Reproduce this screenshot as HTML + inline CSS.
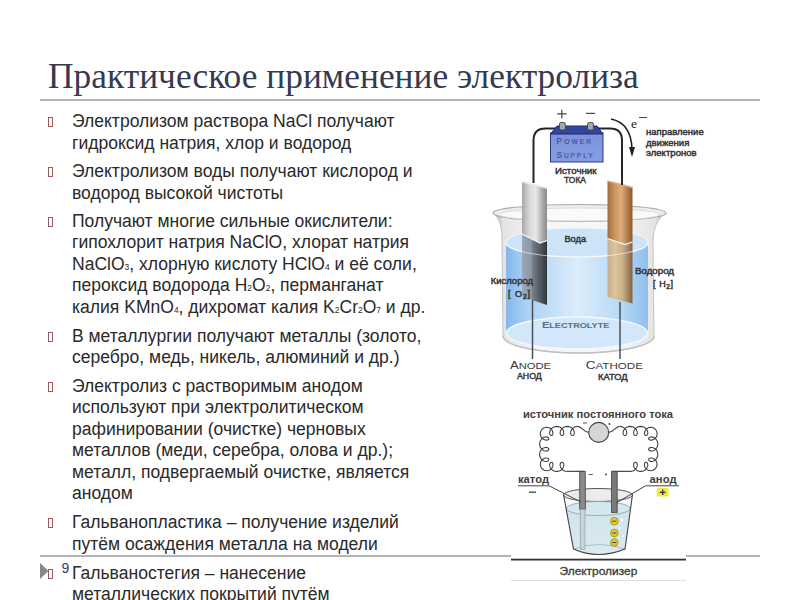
<!DOCTYPE html>
<html><head><meta charset="utf-8">
<style>
html,body{margin:0;padding:0;background:#fff;}
body{width:800px;height:600px;position:relative;overflow:hidden;}
.title{position:absolute;left:48px;top:51px;font-family:"Liberation Serif",serif;font-size:35.4px;color:#363a4f;white-space:nowrap;line-height:50px;}
.hline{position:absolute;left:40px;width:720px;height:2px;background:#b4b4b4;}
.ln{position:absolute;left:72px;font-family:"Liberation Sans",sans-serif;font-size:17.55px;line-height:20px;color:#2a2a2a;white-space:nowrap;}
.bul{position:absolute;left:48px;width:5px;height:10px;border:1px solid #9a5c5c;box-sizing:border-box;}
.sb{font-size:48%;}

</style></head><body>
<div class="title">Практическое применение электролиза</div>
<div class="hline" style="top:99px"></div>
<div class="hline" style="top:555px"></div>
<div class="ln" style="top:111px">Электролизом раствора NaCl получают</div>
<div class="bul" style="top:117px"></div>
<div class="ln" style="top:133px">гидроксид натрия, хлор и водород</div>
<div class="ln" style="top:161px">Электролизом воды получают кислород и</div>
<div class="bul" style="top:167px"></div>
<div class="ln" style="top:183px">водород высокой чистоты</div>
<div class="ln" style="top:211px">Получают многие сильные окислители:</div>
<div class="bul" style="top:217px"></div>
<div class="ln" style="top:232px">гипохлорит натрия NaClO, хлорат натрия</div>
<div class="ln" style="top:254px">NaClO<span class="sb">3</span>, хлорную кислоту HClO<span class="sb">4</span> и её соли,</div>
<div class="ln" style="top:275px">пероксид водорода H<span class="sb">2</span>O<span class="sb">2</span>, перманганат</div>
<div class="ln" style="top:297px">калия KMnO<span class="sb">4</span>, дихромат калия K<span class="sb">2</span>Cr<span class="sb">2</span>O<span class="sb">7</span> и др.</div>
<div class="ln" style="top:326px">В металлургии получают металлы (золото,</div>
<div class="bul" style="top:332px"></div>
<div class="ln" style="top:347px">серебро, медь, никель, алюминий и др.)</div>
<div class="ln" style="top:376px">Электролиз с растворимым анодом</div>
<div class="bul" style="top:382px"></div>
<div class="ln" style="top:397px">используют при электролитическом</div>
<div class="ln" style="top:419px">рафинировании (очистке) черновых</div>
<div class="ln" style="top:440px">металлов (меди, серебра, олова и др.);</div>
<div class="ln" style="top:462px">металл, подвергаемый очистке, является</div>
<div class="ln" style="top:483px">анодом</div>
<div class="ln" style="top:512px">Гальванопластика – получение изделий</div>
<div class="bul" style="top:518px"></div>
<div class="ln" style="top:534px">путём осаждения металла на модели</div>
<div class="ln" style="top:563px">Гальваностегия – нанесение</div>
<div class="bul" style="top:569px"></div>
<div class="ln" style="top:584px">металлических покрытий путём</div>
<svg style="position:absolute;left:0;top:0;font-family:'Liberation Sans',sans-serif" width="800" height="600" viewBox="0 0 800 600">
<polygon points="40,563 48.5,571 40,579" fill="#888"/>
<text x="61.5" y="572.8" font-size="14" fill="#3a3e58">9</text>
<defs>
<linearGradient id="anodeTop" x1="0" x2="1" y1="0" y2="0">
<stop offset="0" stop-color="#a8a8a8"/><stop offset="0.3" stop-color="#d8d8d8"/><stop offset="0.55" stop-color="#e8e8e8"/><stop offset="0.85" stop-color="#a4a4a4"/><stop offset="1" stop-color="#8c8c8c"/>
</linearGradient>
<linearGradient id="anodeBot" x1="0" x2="1" y1="0" y2="0">
<stop offset="0" stop-color="#9aa8b8"/><stop offset="0.38" stop-color="#8a96a4"/><stop offset="0.42" stop-color="#767e88"/><stop offset="0.8" stop-color="#4a5058"/><stop offset="1" stop-color="#30343a"/>
</linearGradient>
<linearGradient id="cathTop" x1="0" x2="1" y1="0" y2="0">
<stop offset="0" stop-color="#a06c3c"/><stop offset="0.3" stop-color="#cc965e"/><stop offset="0.55" stop-color="#dcae7c"/><stop offset="0.85" stop-color="#a87444"/><stop offset="1" stop-color="#8a5a30"/>
</linearGradient>
<linearGradient id="cathBot" x1="0" x2="1" y1="0" y2="0">
<stop offset="0" stop-color="#c4ae90"/><stop offset="0.3" stop-color="#dcc49c"/><stop offset="0.6" stop-color="#ccb088"/><stop offset="0.85" stop-color="#a08060"/><stop offset="1" stop-color="#806040"/>
</linearGradient>
<linearGradient id="water" x1="0" x2="1" y1="0" y2="0">
<stop offset="0" stop-color="#84b8ea"/><stop offset="0.15" stop-color="#acd2f4"/><stop offset="0.5" stop-color="#dcecfa"/><stop offset="0.8" stop-color="#b8daf6"/><stop offset="1" stop-color="#90c0ec"/>
</linearGradient>
<linearGradient id="glass" x1="0" x2="1" y1="0" y2="0">
<stop offset="0" stop-color="#a8a8a8"/><stop offset="0.06" stop-color="#e4e4e4"/><stop offset="0.3" stop-color="#f6f6f6"/><stop offset="0.7" stop-color="#f6f6f6"/><stop offset="0.94" stop-color="#e4e4e4"/><stop offset="1" stop-color="#b0b0b0"/>
</linearGradient>
<linearGradient id="psFront" x1="0" x2="0" y1="0" y2="1">
<stop offset="0" stop-color="#7c93dc"/><stop offset="1" stop-color="#869ce2"/>
</linearGradient>
</defs>
<!-- beaker glass body -->
<path d="M493,213 C500,218 502,228 502,242 L503,336 C503,346 540,353 579,353 C618,353 654,346 654,336 L653,242 C653,228 658,218 666,213 Z" fill="url(#glass)" stroke="#c4c4c4" stroke-width="1"/>
<!-- rim -->
<ellipse cx="579.5" cy="213" rx="86.5" ry="8.5" fill="#ededed" stroke="#a8a8a8" stroke-width="1.2"/>
<ellipse cx="579.5" cy="214.5" rx="80" ry="6.5" fill="#fafafa" stroke="#d4d4d4" stroke-width="0.8"/>
<!-- water body -->
<path d="M506,243 L506,333 A71,15 0 0 0 648,333 L648,243 Z" fill="url(#water)"/>
<ellipse cx="577" cy="242.5" rx="71" ry="14.5" fill="#cce3f8" stroke="#eef6fd" stroke-width="1.2"/>
<ellipse cx="577" cy="333" rx="70.5" ry="16" fill="#d2e8fa" stroke="#f4f9fe" stroke-width="1.5"/>
<path d="M503,336 C503,346 540,353 579,353 C618,353 654,346 654,336" fill="none" stroke="#c0c0c0" stroke-width="1.5"/>
<!-- electrodes -->
<path d="M522,182 L547,188.5 L547,240.5 L540,243 L522,234 Z" fill="url(#anodeTop)"/>
<path d="M522,181.5 L547,188" fill="none" stroke="#ececec" stroke-width="1.6"/>
<path d="M522,234 L540,243 L547,240.5 L547,305 L532,300 L522,297 Z" fill="url(#anodeBot)"/>
<path d="M522,234 L540,243 L547,240.5" fill="none" stroke="#f4f8fc" stroke-width="1.2"/>
<path d="M607.5,181 L632.5,187.5 L632.5,242 L625,244.5 L607.5,238.5 Z" fill="url(#cathTop)"/>
<path d="M607.5,181 L632.5,187.5" fill="none" stroke="#dcae80" stroke-width="1.6"/>
<path d="M607.5,238.5 L625,244.5 L632.5,242 L632.5,303.5 L607.5,297 Z" fill="url(#cathBot)"/>
<path d="M607.5,238.5 L625,244.5 L632.5,242" fill="none" stroke="#f4f8fc" stroke-width="1.2"/>
<path d="M506,242.5 A71,14.5 0 0 0 648,242.5" fill="none" stroke="#ffffff" stroke-opacity="0.55" stroke-width="1.2"/>
<!-- wires under -->
<line x1="532.5" y1="300" x2="532.5" y2="359" stroke="#4a5058" stroke-width="1.5"/>
<line x1="620" y1="302" x2="620" y2="359" stroke="#4a5058" stroke-width="1.5"/>
<!-- top wires -->
<path d="M556,128.5 L545.5,128.5 Q533.5,128.5 533.5,140.5 L533.5,183" fill="none" stroke="#262626" stroke-width="2"/>
<path d="M597,128.5 L610,128.5 Q622,128.5 622,140.5 L622,185" fill="none" stroke="#262626" stroke-width="2"/>
<!-- power supply -->
<rect x="550.5" y="133" width="52.5" height="29" fill="url(#psFront)" stroke="#2e3c88" stroke-width="1"/>
<polygon points="550.5,134 557,126 597,126 603,134" fill="#33469c" stroke="#1e2a70" stroke-width="1"/>
<rect x="559.5" y="122.5" width="5.8" height="7.5" rx="1.5" fill="#a8a8a8" stroke="#444" stroke-width="0.9"/>
<rect x="587.6" y="122.5" width="5.8" height="7.5" rx="1.5" fill="#a8a8a8" stroke="#444" stroke-width="0.9"/>
<g fill="#3f4f96" stroke="#3f4f96" stroke-width="0.15">
<text x="556.6" y="144" font-size="8.2" textLength="34.5" lengthAdjust="spacing">P<tspan font-size="6.6">OWER</tspan></text>
<text x="556.6" y="157.5" font-size="8.2" textLength="36" lengthAdjust="spacing">S<tspan font-size="6.6">UPPLY</tspan></text>
</g>
<!-- +/- -->
<path d="M557.2,113.8 H566.5 M561.8,109.8 V118.3" stroke="#444" stroke-width="1.2"/>
<path d="M586,113.4 H595" stroke="#444" stroke-width="1.2"/>
<!-- arrow -->
<path d="M611,119 Q631,123 632,149" fill="none" stroke="#222" stroke-width="1.6"/>
<polygon points="629,147 635,147 632,157" fill="#222"/>
<text x="631" y="127.5" style="font-family:'Liberation Serif',serif" font-size="13.5" fill="#2a2a2a">e</text>
<path d="M639,117.5 H647" stroke="#444" stroke-width="1"/>
<g font-weight="normal" font-size="9.4" fill="#333" stroke="#333" stroke-width="0.45" style="font-family:'Liberation Sans',sans-serif">
<text x="646" y="135" textLength="57.7" lengthAdjust="spacingAndGlyphs">направление</text>
<text x="646" y="145.5" textLength="43.3" lengthAdjust="spacingAndGlyphs">движения</text>
<text x="646" y="156" textLength="50.7" lengthAdjust="spacingAndGlyphs">электронов</text>
<text x="555" y="174" textLength="41.5" lengthAdjust="spacingAndGlyphs">Источник</text>
<text x="564" y="182.5" textLength="22" lengthAdjust="spacingAndGlyphs">ТОКА</text>
<text x="564.5" y="241.5" textLength="21.5" lengthAdjust="spacingAndGlyphs">Вода</text>
<text x="490.7" y="283.5" textLength="42.3" lengthAdjust="spacingAndGlyphs">Кислород</text>
<text x="635" y="274" textLength="39" lengthAdjust="spacingAndGlyphs">Водород</text>
<text x="508" y="297" font-size="9" textLength="22" lengthAdjust="spacing">[ O<tspan font-size="6.5" dy="2">2</tspan><tspan dy="-2">]</tspan></text>
<text x="653" y="286.5" font-size="9" textLength="20" lengthAdjust="spacing">[ H<tspan font-size="6.5" dy="2">2</tspan><tspan dy="-2">]</tspan></text>
<text x="517" y="379.4" font-size="9.6" textLength="24.8" lengthAdjust="spacingAndGlyphs">АНОД</text>
<text x="598" y="379.5" font-size="9.6" textLength="29.7" lengthAdjust="spacingAndGlyphs">КАТОД</text>
</g>
<g font-weight="bold">
<text x="541.9" y="328" font-size="9.2" fill="#5d6d80" textLength="67.5" lengthAdjust="spacingAndGlyphs">E<tspan font-size="7.6">LECTROLYTE</tspan></text>
<text x="509.9" y="369.3" font-size="10.3" fill="#3a3a3a" font-weight="normal" textLength="41.2" lengthAdjust="spacingAndGlyphs">A<tspan font-size="8.8">NODE</tspan></text>
<text x="585.7" y="369.3" font-size="10.3" fill="#3a3a3a" font-weight="normal" textLength="57.3" lengthAdjust="spacingAndGlyphs">C<tspan font-size="8.8">ATHODE</tspan></text>
</g>


<defs>
<linearGradient id="lw" x1="0" x2="0" y1="0" y2="1">
<stop offset="0" stop-color="#cfe3ec"/><stop offset="1" stop-color="#dbeaf1"/>
</linearGradient>
</defs>
<rect x="511" y="404" width="175" height="186" fill="#ffffff"/>
<g font-weight="bold" fill="#404040">
<text x="523" y="417.5" font-size="10.5" textLength="150" lengthAdjust="spacingAndGlyphs">источник постоянного тока</text>
<text x="518" y="483.3" font-size="11" textLength="31" lengthAdjust="spacingAndGlyphs">катод</text>
<text x="649.6" y="483.3" font-size="11" textLength="27" lengthAdjust="spacingAndGlyphs">анод</text>
</g>
<!-- coils -->
<path d="M577.73,426.40 L576.01,426.60 L574.40,427.20 L572.99,428.13 L571.87,429.32 L571.09,430.66 L570.69,432.02 L570.64,433.30 L570.91,434.37 L571.43,435.14 L572.11,435.55 L572.85,435.55 L573.53,435.14 L574.05,434.37 L574.32,433.30 L574.27,432.02 L573.86,430.66 L573.09,429.32 L571.97,428.13 L570.56,427.20 L568.95,426.60 L567.22,426.40 L565.50,426.60 L563.88,427.20 L562.48,428.13 L561.36,429.32 L560.58,430.66 L560.17,432.02 L560.12,433.30 L560.39,434.37 L560.92,435.14 L561.60,435.55 L562.33,435.55 L563.02,435.14 L563.54,434.37 L563.81,433.30 L563.76,432.02 L563.35,430.66 L562.57,429.32 L561.46,428.13 L560.05,427.20 L558.43,426.60 L556.71,426.40 L554.99,426.60 L553.37,427.20 L551.96,428.13 L550.84,429.32 L550.07,430.66 L549.66,432.02 L549.61,433.30 L549.88,434.37 L550.40,435.14 L551.08,435.55 L551.70,435.57 L552.16,435.31 L552.54,434.80 L552.79,434.07 L552.91,433.09 L552.75,431.93 L552.09,430.19 L550.56,428.49 L548.43,427.43 L546.00,427.23 L543.63,427.97 L541.69,429.57 L540.51,431.79 L540.24,434.27 L540.90,436.64 L542.35,438.55 L544.02,439.61 L545.25,440.04 L546.37,440.16 L547.27,440.09 L548.00,439.85 L548.51,439.47 L548.77,439.00 L548.75,438.39 L548.34,437.71 L547.57,437.19 L546.50,436.91 L545.22,436.96 L543.86,437.37 L542.52,438.15 L541.33,439.27 L540.40,440.68 L539.80,442.29 L539.60,444.02 L539.80,445.74 L540.40,447.36 L541.33,448.76 L542.52,449.88 L543.86,450.66 L545.22,451.07 L546.50,451.12 L547.57,450.85 L548.34,450.32 L548.75,449.64 L548.75,448.89 L548.32,448.19 L547.51,447.65 L546.40,447.38 L545.08,447.46 L543.67,447.91 L542.32,448.75 L541.14,449.93 L540.25,451.41 L539.72,453.09 L539.61,454.85 L539.93,456.59 L540.65,458.18 L541.70,459.52 L542.98,460.54 L544.38,461.19 L545.75,461.45 L546.99,461.34 L547.96,460.93 L548.59,460.30 L548.80,459.55 L548.66,459.02 L548.24,458.56 L547.57,458.22 L546.69,458.06 L545.47,458.06 L544.05,458.45 L542.16,459.74 L540.81,461.76 L540.31,464.19 L540.79,466.68 L542.20,468.80 L544.33,470.21 L546.81,470.69 L549.25,470.19 L551.26,468.84 L552.55,466.95 L552.94,465.53 L552.94,464.30 L552.77,463.43 L552.44,462.76 L551.98,462.34 L551.45,462.20 L550.73,462.40 L550.12,463.00 L549.71,463.93 L549.59,465.12 L549.82,466.46 L550.41,467.82 L551.36,469.10 L552.63,470.17 L554.16,470.94 L555.84,471.35 L557.58,471.35 L559.26,470.94 L560.78,470.17 L562.05,469.10 L563.01,467.82 L563.60,466.46 L563.82,465.12 L563.71,463.93 L563.30,463.00 L562.69,462.40 L561.96,462.20 L561.24,462.40 L560.63,463.00 L560.22,463.93 L560.10,465.12 L560.33,466.46 L560.92,467.82 L561.87,469.10 L563.14,470.17 L564.67,470.94 L566.35,471.35 L566.35,471.35" fill="none" stroke="#444" stroke-width="1.1"/>
<path d="M619.67,426.40 L621.39,426.60 L623.00,427.20 L624.41,428.13 L625.53,429.32 L626.31,430.66 L626.71,432.02 L626.76,433.30 L626.49,434.37 L625.97,435.14 L625.29,435.55 L624.55,435.55 L623.87,435.14 L623.35,434.37 L623.08,433.30 L623.13,432.02 L623.54,430.66 L624.31,429.32 L625.43,428.13 L626.84,427.20 L628.45,426.60 L630.18,426.40 L631.90,426.60 L633.52,427.20 L634.92,428.13 L636.04,429.32 L636.82,430.66 L637.23,432.02 L637.28,433.30 L637.01,434.37 L636.48,435.14 L635.80,435.55 L635.07,435.55 L634.38,435.14 L633.86,434.37 L633.59,433.30 L633.64,432.02 L634.05,430.66 L634.83,429.32 L635.94,428.13 L637.35,427.20 L638.97,426.60 L640.69,426.40 L642.41,426.60 L644.03,427.20 L645.44,428.13 L646.56,429.32 L647.33,430.66 L647.74,432.02 L647.79,433.30 L647.52,434.37 L647.00,435.14 L646.32,435.55 L645.70,435.57 L645.24,435.31 L644.86,434.80 L644.61,434.07 L644.49,433.09 L644.65,431.93 L645.31,430.19 L646.84,428.49 L648.97,427.43 L651.40,427.23 L653.77,427.97 L655.71,429.57 L656.89,431.79 L657.16,434.27 L656.50,436.64 L655.05,438.55 L653.38,439.61 L652.15,440.04 L651.03,440.16 L650.13,440.09 L649.40,439.85 L648.89,439.47 L648.63,439.00 L648.65,438.39 L649.06,437.71 L649.83,437.19 L650.90,436.91 L652.18,436.96 L653.54,437.37 L654.88,438.15 L656.07,439.27 L657.00,440.68 L657.60,442.29 L657.80,444.02 L657.60,445.74 L657.00,447.36 L656.07,448.76 L654.88,449.88 L653.54,450.66 L652.18,451.07 L650.90,451.12 L649.83,450.85 L649.06,450.32 L648.65,449.64 L648.65,448.89 L649.08,448.19 L649.89,447.65 L651.00,447.38 L652.32,447.46 L653.73,447.91 L655.08,448.75 L656.26,449.93 L657.15,451.41 L657.68,453.09 L657.79,454.85 L657.47,456.59 L656.75,458.18 L655.70,459.52 L654.42,460.54 L653.02,461.19 L651.65,461.45 L650.41,461.34 L649.44,460.93 L648.81,460.30 L648.60,459.55 L648.74,459.02 L649.16,458.56 L649.83,458.22 L650.71,458.06 L651.93,458.06 L653.35,458.45 L655.24,459.74 L656.59,461.76 L657.09,464.19 L656.61,466.68 L655.20,468.80 L653.07,470.21 L650.59,470.69 L648.15,470.19 L646.14,468.84 L644.85,466.95 L644.46,465.53 L644.46,464.30 L644.63,463.43 L644.96,462.76 L645.42,462.34 L645.95,462.20 L646.67,462.40 L647.28,463.00 L647.69,463.93 L647.81,465.12 L647.58,466.46 L646.99,467.82 L646.04,469.10 L644.77,470.17 L643.24,470.94 L641.56,471.35 L639.82,471.35 L638.14,470.94 L636.62,470.17 L635.35,469.10 L634.39,467.82 L633.80,466.46 L633.58,465.12 L633.69,463.93 L634.10,463.00 L634.71,462.40 L635.44,462.20 L636.16,462.40 L636.77,463.00 L637.18,463.93 L637.30,465.12 L637.07,466.46 L636.48,467.82 L635.53,469.10 L634.26,470.17 L632.73,470.94 L631.05,471.35 L631.05,471.35" fill="none" stroke="#444" stroke-width="1.1"/>
<path d="M577.73,426.4 C582,426.4 583.5,432.4 588.7,432.4" fill="none" stroke="#444" stroke-width="1.1"/>
<path d="M619.67,426.4 C615.4,426.4 613.9,432.4 608.7,432.4" fill="none" stroke="#444" stroke-width="1.1"/>
<circle cx="598.7" cy="432.4" r="10" fill="#d6d6d6" stroke="#444" stroke-width="1.1"/>
<path d="M583,423 H587" stroke="#555" stroke-width="1"/>
<circle cx="609.5" cy="424" r="1" fill="#444"/>
<!-- bottom wires to electrodes -->
<path d="M566.3,471.35 L584,471.35" stroke="#444" stroke-width="1.2"/>
<path d="M631.05,471.35 L613,471.35" stroke="#444" stroke-width="1.2"/>
<!-- beaker -->
<path d="M563.5,494.5 L573.5,549 Q598,560 625,549 L632.5,494.5 Z" fill="#f6f8f9"/>
<ellipse cx="598" cy="495" rx="34.5" ry="6.5" fill="#ececec" stroke="#555" stroke-width="1"/>
<path d="M566.5,508 L573.5,549 Q598,560 625,549 L630,508 Q598,518 566.5,508 Z" fill="url(#lw)"/>
<ellipse cx="598.3" cy="508.5" rx="31.8" ry="7" fill="#d4e6ee" stroke="#8aa0aa" stroke-width="0.8"/>
<path d="M573.5,549 Q598,540 625,549" fill="none" stroke="#9fb4bd" stroke-width="0.8"/>
<path d="M563.5,494.5 L573.5,549 Q598,560 625,549 L632.5,494.5" fill="none" stroke="#444" stroke-width="1.1"/>
<!-- electrodes -->
<rect x="579.7" y="471.3" width="5.6" height="38" fill="#8a8a8a" stroke="#444" stroke-width="0.8"/>
<rect x="580.2" y="509.3" width="4.8" height="40" fill="#c6d3d8" stroke="#8a9aa0" stroke-width="0.6"/>
<rect x="611.6" y="471.3" width="5.6" height="41.2" fill="#7a7a7a" stroke="#444" stroke-width="0.8"/>
<!-- pointer lines -->
<path d="M518,485.8 H549 L581,502" fill="none" stroke="#444" stroke-width="1"/>
<path d="M679,485.8 H645.6 L616,503" fill="none" stroke="#444" stroke-width="1"/>
<path d="M529,492.2 H536" stroke="#444" stroke-width="1.3"/>
<rect x="656.7" y="488" width="11.9" height="8.6" rx="1.5" fill="#f0e840"/>
<path d="M659.8,492.3 H665.6 M662.7,489.6 V495" stroke="#333" stroke-width="1.3"/>
<path d="M588.8,474.5 H592.8" stroke="#555" stroke-width="1"/>
<circle cx="606" cy="474.5" r="1" fill="#444"/>
<!-- yellow ions -->
<g stroke="#9c8a10" stroke-width="0.8" fill="#e2cc28">
<circle cx="614.3" cy="521.2" r="3.8"/><circle cx="614.3" cy="533" r="3.8"/><circle cx="614.3" cy="542.5" r="3.8"/>
</g>
<path d="M612.3,521.2 H616.3 M612.3,533 H616.3 M612.3,542.5 H616.3" stroke="#444" stroke-width="1"/>
<g fill="#ffffff"><circle cx="622" cy="520" r="1.2"/><circle cx="620" cy="528" r="1"/><circle cx="623" cy="536" r="1.1"/></g>
<!-- bottom caption -->
<rect x="511" y="558.7" width="175" height="1.8" fill="#333"/>
<text x="559.5" y="574.7" font-size="11" fill="#3a3a3a" stroke="#3a3a3a" stroke-width="0.3" textLength="77.8" lengthAdjust="spacingAndGlyphs">Электролизер</text>
<rect x="511" y="580" width="175" height="0.8" fill="#d8d8d8"/>

</svg>
</body></html>
